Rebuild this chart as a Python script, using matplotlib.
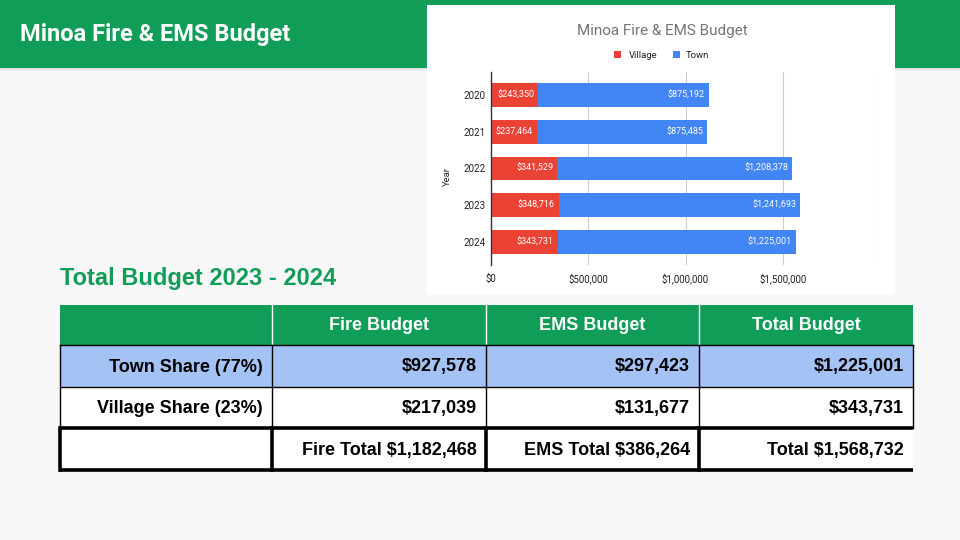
import matplotlib.pyplot as plt
from matplotlib.patches import Rectangle

# === Daten ===
years = ["2020", "2021", "2022", "2023", "2024"]
village = [243350, 237464, 341529, 348716, 343731]
town = [875192, 875485, 1208378, 1241693, 1225001]

col_headers = ["", "Fire Budget", "EMS Budget", "Total Budget"]
row_labels = ["Town Share (77%)", "Village Share (23%)", ""]
table_values = [
    ["$927,578", "$297,423", "$1,225,001"],
    ["$217,039", "$131,677", "$343,731"],
    ["Fire Total $1,182,468", "EMS Total $386,264", "Total $1,568,732"],
]

GREEN = "#0f9d58"
RED = "#ea4335"
BLUE = "#4285f4"
LIGHTBLUE = "#a4c2f4"

fig = plt.figure(figsize=(9.6, 5.4), dpi=100)
fig.patch.set_facecolor("#f8f8f8")

# === Folie (Pixelkoordinaten) ===
bg = fig.add_axes([0, 0, 1, 1])
bg.set_xlim(0, 960)
bg.set_ylim(540, 0)
bg.axis("off")

# Kopfzeile mit leichtem Schatten
for i, a in enumerate([0.10, 0.06, 0.03]):
    bg.add_patch(Rectangle((0, 68 + i), 960, 1, color="black", alpha=a, lw=0))
bg.add_patch(Rectangle((0, 0), 960, 68, color=GREEN, lw=0))
bg.text(20, 34, "Minoa Fire & EMS Budget", color="white", fontsize=17,
        fontweight="bold", family="Roboto", va="center", ha="left")

# weisser Kasten fuer das Diagramm
bg.add_patch(Rectangle((427, 5), 468, 290, color="white", lw=0, zorder=3))
bg.text(662, 31, "Minoa Fire & EMS Budget", color="#757575", fontsize=11,
        family="Roboto", ha="center", va="center", zorder=4)
bg.add_patch(Rectangle((614, 51), 7, 7, color=RED, lw=0, zorder=4))
bg.text(629, 55, "Village", fontsize=6.8, family="Roboto", color="#222222",
        va="center", zorder=4)
bg.add_patch(Rectangle((673, 51), 7, 7, color=BLUE, lw=0, zorder=4))
bg.text(686, 55, "Town", fontsize=6.8, family="Roboto", color="#222222",
        va="center", zorder=4)
bg.text(447, 177, "Year", fontsize=6.8, family="Roboto", color="#222222",
        rotation=90, ha="center", va="center", zorder=4)

# Tabellen-Titel
bg.text(60, 279, "Total Budget 2023 - 2024", color=GREEN, fontsize=17,
        fontweight="bold", family="Liberation Sans", va="center", ha="left")

# === Tabelle ===
col_x = [60, 272, 486, 699, 913]
row_y = [305, 345, 387, 428, 470]
row_fill = [GREEN, LIGHTBLUE, "white", "white"]

for r in range(4):
    bg.add_patch(Rectangle((col_x[0], row_y[r]), col_x[-1] - col_x[0],
                           row_y[r + 1] - row_y[r], color=row_fill[r], lw=0))

# Kopfzeile: weisse Trennlinien
for x in col_x[1:-1]:
    bg.plot([x, x], [row_y[0], row_y[1]], color="white", lw=1)
# duenne Linien fuer Zeilen 1-2
for y in row_y[1:3]:
    bg.plot([col_x[0], col_x[-1]], [y, y], color="black", lw=1)
for x in col_x:
    bg.plot([x, x], [row_y[1], row_y[3]], color="black", lw=1)
# dicke Rahmen fuer Summenzeile
for y in row_y[3:]:
    bg.plot([col_x[0] - 1, col_x[-1]], [y, y], color="black", lw=2.6,
            solid_capstyle="butt")
for x in col_x[:-1]:
    bg.plot([x, x], [row_y[3], row_y[4]], color="black", lw=2.6)

# Texte
for c in range(1, 4):
    bg.text((col_x[c] + col_x[c + 1]) / 2, (row_y[0] + row_y[1]) / 2 + 1,
            col_headers[c], color="white", fontsize=13, fontweight="bold",
            family="Liberation Sans", ha="center", va="center")
for r in range(3):
    yc = (row_y[r + 1] + row_y[r + 2]) / 2 + 1
    bg.text(col_x[1] - 9, yc, row_labels[r], fontsize=13, fontweight="bold",
            family="Liberation Sans", ha="right", va="center", color="black")
    for c in range(3):
        bg.text(col_x[c + 2] - 9, yc, table_values[r][c], fontsize=13,
                fontweight="bold", family="Liberation Sans", ha="right",
                va="center", color="black")

# === Balkendiagramm ===
ax = fig.add_axes([491 / 960, 1 - 265 / 540, (880 - 491) / 960, (265 - 72) / 540])
ax.set_zorder(5)
ax.set_facecolor("white")
ypos = list(range(len(years)))
b1 = ax.barh(ypos, village, height=0.65, color=RED, zorder=3)
b2 = ax.barh(ypos, town, left=village, height=0.65, color=BLUE, zorder=3)

for bars in (b1, b2):
    for rect in bars:
        end = rect.get_x() + rect.get_width()
        ax.annotate(f"${rect.get_width():,.0f}", (end, rect.get_y() + rect.get_height() / 2),
                    xytext=(-3, 0), textcoords="offset points", ha="right",
                    va="center", color="white", fontsize=6.5, family="Roboto",
                    zorder=4)

ax.set_xlim(0, 2000000)
ax.set_ylim(4.63, -0.63)
ax.set_xticks([0, 500000, 1000000, 1500000, 2000000])
ax.set_xticklabels(["$0", "$500,000", "$1,000,000", "$1,500,000", ""])
ax.set_yticks(ypos)
ax.set_yticklabels(years)
ax.tick_params(length=0, labelsize=7, colors="#222222", pad=4)
for lab in ax.get_xticklabels() + ax.get_yticklabels():
    lab.set_family("Roboto")
ax.tick_params(axis="x", pad=6)
ax.grid(axis="x", color="#cccccc", lw=0.8, zorder=0)
for s in ["top", "right", "bottom"]:
    ax.spines[s].set_visible(False)
ax.spines["left"].set_color("#333333")
ax.spines["left"].set_linewidth(1)
ax.spines["left"].set_zorder(4)

fig.savefig("out.png", dpi=100, facecolor=fig.get_facecolor())
